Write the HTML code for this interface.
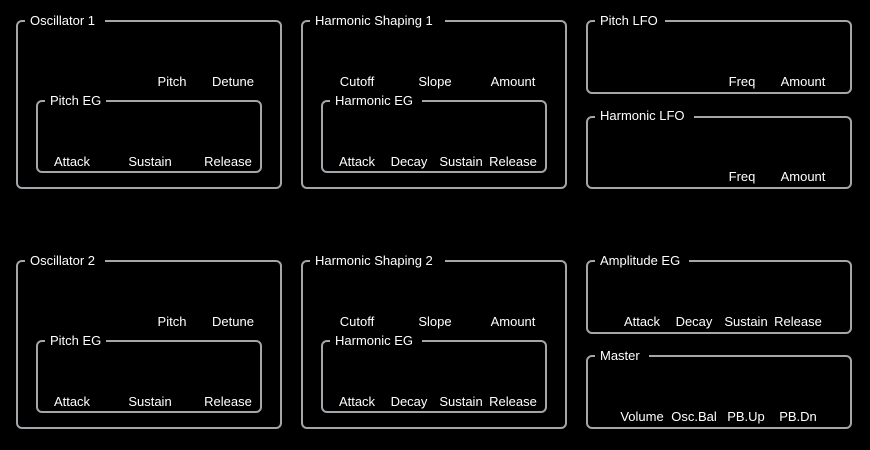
<!DOCTYPE html>
<html><head><style>
html,body{margin:0;padding:0;background:#000;width:870px;height:450px;overflow:hidden}
svg text{font-family:"Liberation Sans","DejaVu Sans",sans-serif;font-size:13px;fill:#fff}
</style></head><body>
<svg width="870" height="450" xmlns="http://www.w3.org/2000/svg">
<g fill="none" stroke="#a3a7a9" stroke-width="2">
<rect x="17" y="21" width="264" height="167" rx="5"/>
<rect x="302" y="21" width="264" height="167" rx="5"/>
<rect x="587" y="21" width="264" height="72" rx="5"/>
<rect x="587" y="117" width="264" height="71" rx="5"/>
<rect x="37" y="101" width="224" height="71" rx="5"/>
<rect x="322" y="101" width="224" height="71" rx="5"/>
<rect x="17" y="261" width="264" height="167" rx="5"/>
<rect x="302" y="261" width="264" height="167" rx="5"/>
<rect x="587" y="261" width="264" height="72" rx="5"/>
<rect x="587" y="356" width="264" height="72" rx="5"/>
<rect x="37" y="341" width="224" height="71" rx="5"/>
<rect x="322" y="341" width="224" height="71" rx="5"/>
</g>
<g fill="#000">
<rect x="25" y="14" width="80" height="14"/>
<rect x="310" y="14" width="135" height="14"/>
<rect x="595" y="14" width="70" height="14"/>
<rect x="595" y="110" width="99" height="14"/>
<rect x="45" y="94" width="61" height="14"/>
<rect x="330" y="94" width="92" height="14"/>
<rect x="25" y="254" width="80" height="14"/>
<rect x="310" y="254" width="135" height="14"/>
<rect x="595" y="254" width="94" height="14"/>
<rect x="595" y="349" width="54" height="14"/>
<rect x="45" y="334" width="61" height="14"/>
<rect x="330" y="334" width="92" height="14"/>
</g>
<g>
<text x="30" y="25">Oscillator 1</text>
<text x="315" y="25">Harmonic Shaping 1</text>
<text x="600" y="25">Pitch LFO</text>
<text x="600" y="120">Harmonic LFO</text>
<text x="50" y="105">Pitch EG</text>
<text x="335" y="105">Harmonic EG</text>
<text x="30" y="265">Oscillator 2</text>
<text x="315" y="265">Harmonic Shaping 2</text>
<text x="600" y="265">Amplitude EG</text>
<text x="600" y="360">Master</text>
<text x="50" y="345">Pitch EG</text>
<text x="335" y="345">Harmonic EG</text>
</g>
<g text-anchor="middle">
<text x="172" y="86">Pitch</text><text x="233" y="86">Detune</text>
<text x="72" y="166">Attack</text><text x="150" y="166">Sustain</text><text x="228" y="166">Release</text>
<text x="357" y="86">Cutoff</text><text x="435" y="86">Slope</text><text x="513" y="86">Amount</text>
<text x="357" y="166">Attack</text><text x="409" y="166">Decay</text><text x="461" y="166">Sustain</text><text x="513" y="166">Release</text>
<text x="742" y="86">Freq</text><text x="803" y="86">Amount</text>
<text x="742" y="181">Freq</text><text x="803" y="181">Amount</text>
<text x="172" y="326">Pitch</text><text x="233" y="326">Detune</text>
<text x="72" y="406">Attack</text><text x="150" y="406">Sustain</text><text x="228" y="406">Release</text>
<text x="357" y="326">Cutoff</text><text x="435" y="326">Slope</text><text x="513" y="326">Amount</text>
<text x="357" y="406">Attack</text><text x="409" y="406">Decay</text><text x="461" y="406">Sustain</text><text x="513" y="406">Release</text>
<text x="642" y="326">Attack</text><text x="694" y="326">Decay</text><text x="746" y="326">Sustain</text><text x="798" y="326">Release</text>
<text x="642" y="421">Volume</text><text x="694" y="421">Osc.Bal</text><text x="746" y="421">PB.Up</text><text x="798" y="421">PB.Dn</text>
</g>
</svg>
</body></html>
